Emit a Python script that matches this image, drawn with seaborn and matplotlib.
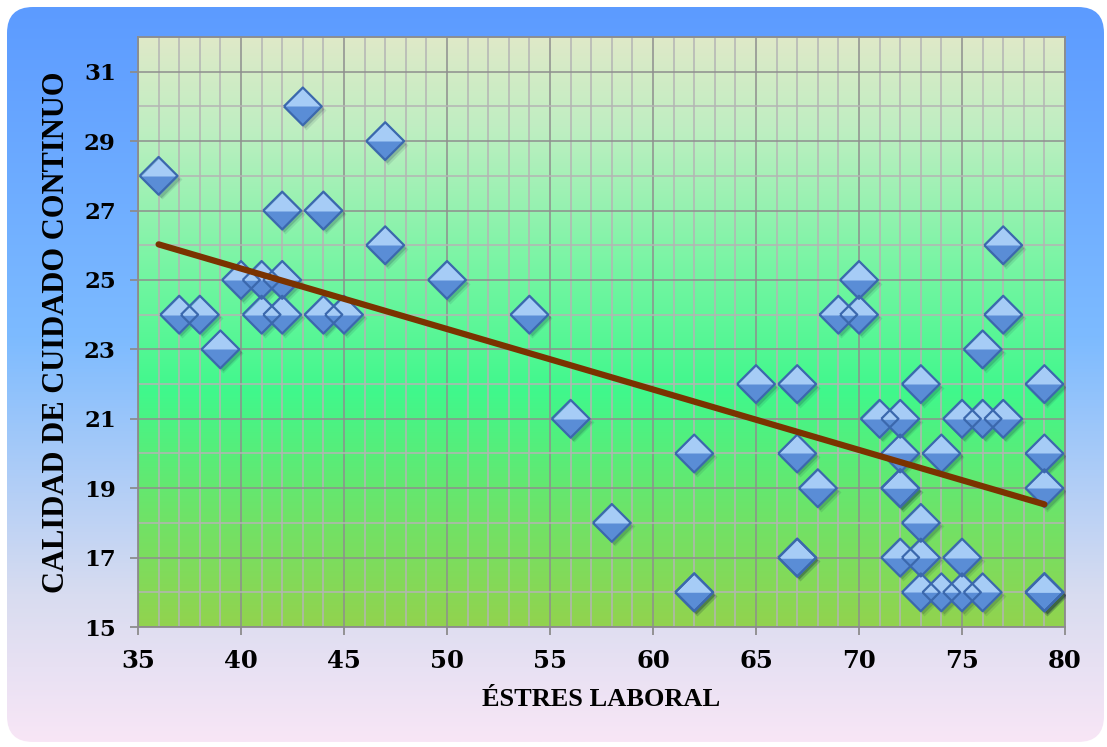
import numpy as np
import pandas as pd
import matplotlib
matplotlib.use("Agg")
import matplotlib.pyplot as plt
import seaborn as sns
import matplotlib.transforms as mtransforms
from matplotlib.colors import LinearSegmentedColormap
from matplotlib.patches import FancyBboxPatch
from matplotlib.ticker import MultipleLocator, FixedLocator

# ---- data (stacked markers counted more than once) ----
estres = [36, 37, 38, 39, 40, 41, 41, 42, 42, 42, 43, 44, 44, 45, 47, 47, 50, 54,
          56, 58, 62, 62, 62, 65, 67, 67, 67, 67, 68, 69, 70, 70, 71, 72, 72, 72, 72, 72,
          73, 73, 73, 73, 74, 74, 75, 75, 75, 76, 76, 76, 77, 77, 77, 79, 79, 79, 79, 79, 79]
calidad = [28, 24, 24, 23, 25, 25, 24, 25, 24, 27, 30, 27, 24, 24, 29, 26, 25, 24,
           21, 18, 20, 16, 16, 22, 22, 20, 17, 17, 19, 24, 25, 24, 21, 21, 20, 19, 19, 17,
           22, 18, 17, 16, 20, 16, 21, 17, 16, 23, 21, 16, 26, 24, 21, 22, 20, 19, 16, 16, 16]
x_label = "ÉSTRES LABORAL"
y_label = "CALIDAD DE CUIDADO CONTINUO"
y_ticks = [15, 17, 19, 21, 23, 25, 27, 29, 31]

df = pd.DataFrame({"estres": estres, "calidad": calidad})

sns.set_style("ticks")
plt.rcParams["font.family"] = ["DejaVu Serif"]
plt.rcParams["font.weight"] = "bold"
plt.rcParams["text.color"] = "black"
plt.rcParams["axes.labelcolor"] = "black"
plt.rcParams["xtick.labelcolor"] = "black"
plt.rcParams["ytick.labelcolor"] = "black"

W, H = 1107, 747
fig = plt.figure(figsize=(W / 100, H / 100), dpi=100)
fig.patch.set_facecolor("white")

# ---- figure background: rounded gradient panel ----
bg = fig.add_axes([0, 0, 1, 1], zorder=0)
bg.set_xlim(0, W)
bg.set_ylim(H, 0)
bg.axis("off")
grad = np.linspace(0, 1, 256).reshape(-1, 1)
bg_cmap = LinearSegmentedColormap.from_list(
    "bg", [(0, "#5c9bff"), (0.45, "#7dbbff"), (0.8, "#d8dcf0"), (1, "#f8e6f6")])
x0, y0, x1, y1, r = 7, 7, 1104, 742, 26
im = bg.imshow(grad, cmap=bg_cmap, extent=[x0, x1, y1, y0], aspect="auto")
panel = FancyBboxPatch((x0 + r, y0 + r), (x1 - x0) - 2 * r, (y1 - y0) - 2 * r,
                       boxstyle=f"round,pad={r}", facecolor="none", edgecolor="none",
                       transform=bg.transData)
bg.add_patch(panel)
im.set_clip_path(panel)

# ---- main axes ----
ax = fig.add_axes([138 / W, 120 / H, 927 / W, 590 / H], zorder=1)
ax.patch.set_alpha(0)
plot_cmap = LinearSegmentedColormap.from_list(
    "plot", [(0, "#dfe9c8"), (0.15, "#c0eec2"), (0.4, "#74f5a2"), (0.6, "#40f88c"),
             (0.8, "#6ce46a"), (1, "#92d34e")])
ax.imshow(grad, cmap=plot_cmap, extent=[35, 80, 15, 32], aspect="auto", zorder=0)

# marker shapes
diamond = [(-1, 0), (0, 1), (1, 0), (0, -1), (-1, 0)]
top_half = [(-1, 0), (0, 1), (1, 0), (-1, 0)]
S = 740

# soft shadow (two layers)
for s_fac, a, dx, dy in [(1.12, 0.10, 2.2, -2.6), (1.0, 0.18, 1.6, -2.0)]:
    sns.scatterplot(data=df, x="estres", y="calidad", marker=diamond, s=S * s_fac,
                    color="#10203a", alpha=a, linewidth=0, ax=ax, zorder=3)
    tr = ax.transData + mtransforms.ScaledTranslation(dx / 72, dy / 72, fig.dpi_scale_trans)
    ax.collections[-1].set_offset_transform(tr)
# body
sns.scatterplot(data=df, x="estres", y="calidad", marker=diamond, s=S,
                color="#5a8dd6", linewidth=0, ax=ax, zorder=4)
sns.scatterplot(data=df, x="estres", y="calidad", marker=top_half, s=S * 0.93,
                color="#a6ccf6", linewidth=0, ax=ax, zorder=5)
sns.scatterplot(data=df, x="estres", y="calidad", marker=diamond, s=S,
                facecolor="none", edgecolor="#3b68ad", linewidth=1.6, ax=ax, zorder=6)

# regression line
sns.regplot(data=df, x="estres", y="calidad", scatter=False, ci=None, ax=ax,
            color="#7a3300", line_kws={"lw": 4.5, "solid_capstyle": "round", "zorder": 7})

ax.set_xlim(35, 80)
ax.set_ylim(15, 32)
ax.xaxis.set_major_locator(MultipleLocator(5))
ax.xaxis.set_minor_locator(MultipleLocator(1))
ax.yaxis.set_major_locator(FixedLocator(y_ticks))
ax.yaxis.set_minor_locator(MultipleLocator(1))
ax.set_axisbelow(True)
ax.grid(which="minor", color="#b4b4b4", lw=1.1)
ax.grid(which="major", color="#8e8e8e", lw=1.1)
ax.tick_params(which="major", direction="out", length=6, width=1.3, color="#8c8c8c",
               labelcolor="black")
ax.tick_params(which="minor", length=0)
ax.tick_params(axis="x", labelsize=17.5, pad=10)
ax.tick_params(axis="y", labelsize=16.5, pad=10)
for side in ["left", "bottom", "top", "right"]:
    ax.spines[side].set_color("#8c8c8c")
    ax.spines[side].set_linewidth(1.3)

ax.set_xlabel(x_label, fontsize=19, fontweight="bold", family="Liberation Serif",
              color="black")
ax.set_ylabel(y_label, fontsize=22, fontweight="bold", family="Liberation Serif",
              color="black")
ax.xaxis.set_label_coords(0.5, -0.104)
ax.yaxis.set_label_coords(-0.072, 0.5)

fig.savefig("out.png", dpi=100)
